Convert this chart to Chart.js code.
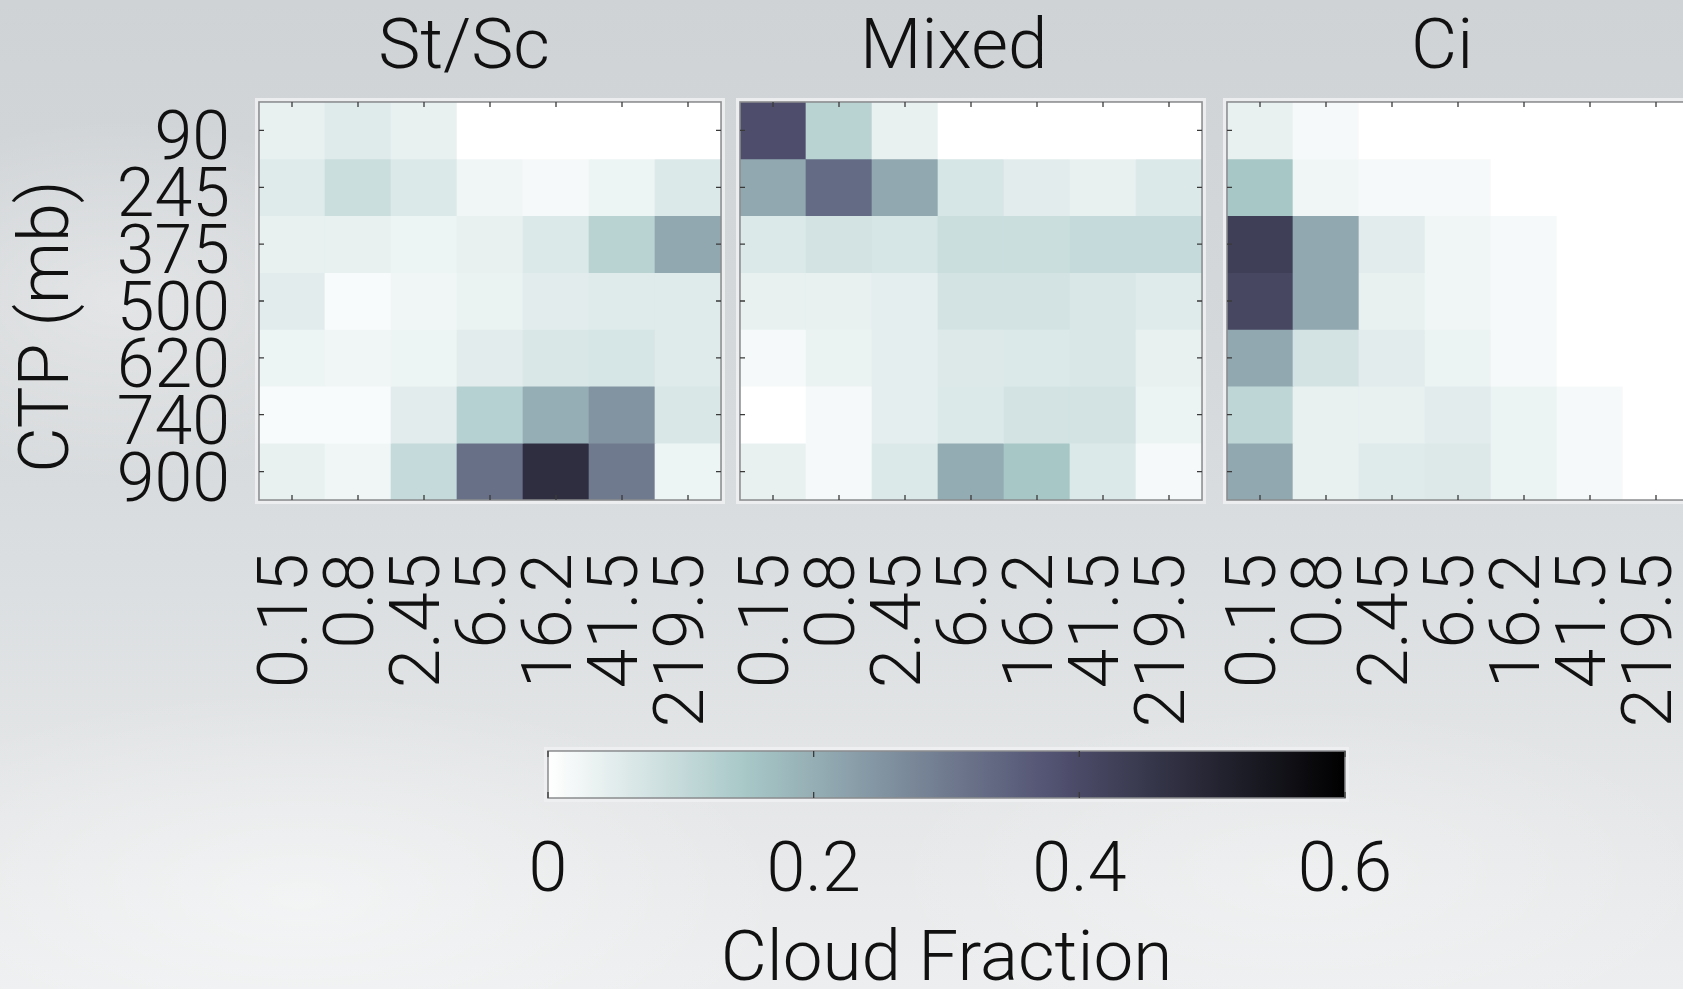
<!DOCTYPE html>
<html>
<head>
<meta charset="utf-8">
<script src="https://cdn.jsdelivr.net/npm/chart.js@4.4.1/dist/chart.umd.min.js"></script>
<style>
  html, body { margin: 0; padding: 0; }
  body {
    width: 1683px; height: 989px; overflow: hidden; position: relative;
    background:
      radial-gradient(ellipse 420px 260px at 120px 300px, rgba(255,255,255,0.35), rgba(255,255,255,0) 70%),
      radial-gradient(ellipse 700px 300px at 300px 900px, rgba(255,255,255,0.45), rgba(255,255,255,0) 70%),
      radial-gradient(ellipse 600px 250px at 1300px 880px, rgba(255,255,255,0.30), rgba(255,255,255,0) 70%),
      linear-gradient(to bottom, #cfd3d6 0%, #d5d8da 35%, #dcdfe1 60%, #e6e8e9 85%, #eceeef 100%);
  }
  canvas { position: absolute; }
</style>
</head>
<body>
<canvas id="p1" width="740" height="740" style="left:0px;top:0px"></canvas>
<canvas id="p2" width="500" height="740" style="left:722px;top:0px"></canvas>
<canvas id="p3" width="500" height="740" style="left:1209px;top:0px"></canvas>
<canvas id="cb" width="1000" height="269" style="left:450px;top:720px"></canvas>
<script>
// ---- data ----
const xLabels = ['0.15', '0.8', '2.45', '6.5', '16.2', '41.5', '219.5'];   // optical thickness bins
const yLabels = ['90', '245', '375', '500', '620', '740', '900'];          // CTP (mb), top to bottom
const panelTitles = ['St/Sc', 'Mixed', 'Ci'];

const stscValues = [
  [0.04, 0.055, 0.04, 0, 0, 0, 0],
  [0.055, 0.09, 0.06, 0.025, 0.015, 0.03, 0.06],
  [0.04, 0.04, 0.03, 0.04, 0.06, 0.12, 0.21],
  [0.05, 0.012, 0.025, 0.035, 0.05, 0.055, 0.055],
  [0.03, 0.025, 0.03, 0.05, 0.065, 0.07, 0.055],
  [0.012, 0.012, 0.05, 0.125, 0.2, 0.25, 0.065],
  [0.04, 0.025, 0.1, 0.32, 0.475, 0.3, 0.03]
];
const mixedValues = [
  [0.39, 0.12, 0.04, 0, 0, 0, 0],
  [0.21, 0.33, 0.21, 0.07, 0.05, 0.04, 0.06],
  [0.06, 0.075, 0.07, 0.09, 0.09, 0.1, 0.1],
  [0.04, 0.04, 0.045, 0.075, 0.075, 0.065, 0.055],
  [0.015, 0.035, 0.045, 0.058, 0.06, 0.065, 0.04],
  [0, 0.015, 0.045, 0.06, 0.075, 0.075, 0.033],
  [0.04, 0.015, 0.06, 0.205, 0.15, 0.06, 0.015]
];
const ciValues = [
  [0.04, 0.015, 0, 0, 0, 0, 0],
  [0.15, 0.025, 0.015, 0.015, 0, 0, 0],
  [0.43, 0.21, 0.05, 0.025, 0.015, 0, 0],
  [0.41, 0.21, 0.04, 0.025, 0.015, 0, 0],
  [0.21, 0.075, 0.05, 0.033, 0.015, 0, 0],
  [0.11, 0.04, 0.04, 0.05, 0.033, 0.015, 0],
  [0.21, 0.04, 0.055, 0.058, 0.033, 0.015, 0]
];
const cbTicks = [0, 0.2, 0.4, 0.6];
const cbMin = 0, cbMax = 0.6;

// ---- colormap (reversed "bone") ----
function clamp01(t) { return Math.max(0, Math.min(1, t)); }
function cmap(v) {
  const x = 1 - clamp01((v - cbMin) / (cbMax - cbMin));
  const hr = Math.min(1, x / 0.375);
  const hg = clamp01((x - 0.375) / 0.375);
  const hb = clamp01((x - 0.75) / 0.25);
  const r = (7 * x + hb) / 8, g = (7 * x + hg) / 8, b = (7 * x + hr) / 8;
  return 'rgb(' + Math.round(r * 255) + ',' + Math.round(g * 255) + ',' + Math.round(b * 255) + ')';
}

const FONT = 'Roboto, "Liberation Sans", sans-serif';
const TXT = '#111111';

// frame + inner ticks plugin
const framePlugin = {
  id: 'frame',
  afterDatasetsDraw(chart, args, opts) {
    const { ctx, chartArea: a } = chart;
    ctx.save();
    ctx.strokeStyle = 'rgba(238,240,241,0.9)';
    ctx.lineWidth = 3;
    ctx.strokeRect(a.left - 2.5, a.top - 2.5, a.right - a.left + 5, a.bottom - a.top + 5);
    ctx.strokeStyle = '#8a8c8e';
    ctx.lineWidth = 1.5;
    ctx.strokeRect(a.left, a.top, a.right - a.left, a.bottom - a.top);
    ctx.strokeStyle = '#3a3a3a';
    ctx.lineWidth = 1.3;
    const L = opts.len || 5;
    const xs = chart.scales.x;
    xs.ticks.forEach((t, i) => {
      const px = xs.getPixelForTick(i);
      ctx.beginPath();
      ctx.moveTo(px, a.top); ctx.lineTo(px, a.top + L);
      ctx.moveTo(px, a.bottom); ctx.lineTo(px, a.bottom - L);
      ctx.stroke();
    });
    if (opts.yTicks) {
      const ys = chart.scales.y;
      ys.ticks.forEach((t, i) => {
        const py = ys.getPixelForTick(i);
        ctx.beginPath();
        ctx.moveTo(a.left, py); ctx.lineTo(a.left + L, py);
        ctx.moveTo(a.right, py); ctx.lineTo(a.right - L, py);
        ctx.stroke();
      });
    }
    ctx.restore();
  }
};

function noPad(s) { s.paddingLeft = 0; s.paddingRight = 0; s.paddingTop = 0; s.paddingBottom = 0; }

// titleSpaces: trailing spaces nudge the centred title slightly left, as in the original figure
function makePanel(id, values, title, titleSpaces, showY, padding) {
  return new Chart(document.getElementById(id), {
    type: 'bar',
    data: {
      labels: xLabels,
      datasets: values.map((row, r) => ({
        label: yLabels[r],
        data: row.map(() => [r, r + 1]),
        backgroundColor: row.map(cmap),
        borderWidth: 0,
        barPercentage: 1,
        categoryPercentage: 1,
        grouped: false
      }))
    },
    options: {
      responsive: false,
      animation: false,
      devicePixelRatio: 1,
      layout: { padding: padding },
      plugins: {
        legend: { display: false },
        tooltip: { enabled: false },
        title: {
          display: true, text: title + titleSpaces, color: TXT, fullSize: false,
          font: { family: FONT, size: 71, weight: 300, lineHeight: 1 },
          padding: { top: 15, bottom: 16 }
        },
        frame: { yTicks: true, len: 5 }
      },
      scales: {
        x: {
          type: 'category',
          grid: { display: false, drawTicks: false },
          border: { display: false },
          ticks: {
            autoSkip: false, minRotation: 90, maxRotation: 90, padding: 53, labelOffset: -3,
            color: TXT, font: { family: FONT, size: 71, weight: 300, lineHeight: 1.2 }
          },
          afterFit: s => { s.height = 240; noPad(s); }
        },
        y: {
          type: 'linear', min: 0, max: yLabels.length, reverse: true,
          display: showY,
          grid: { display: false, drawTicks: false },
          border: { display: false },
          afterBuildTicks: s => { s.ticks = yLabels.map((_, i) => ({ value: i + 0.5 })); },
          ticks: {
            autoSkip: false,
            callback: v => yLabels[Math.floor(v)],
            padding: 29, labelOffset: 12,
            color: TXT, font: { family: FONT, size: 68, weight: 300, lineHeight: 1 }
          },
          title: {
            display: showY, text: 'CTP (mb)   ', color: TXT,
            font: { family: FONT, size: 70, weight: 300, lineHeight: 1 },
            padding: { top: 15, bottom: 0 }
          },
          afterFit: s => { s.width = showY ? 259 : 0; noPad(s); }
        }
      }
    },
    plugins: [framePlugin]
  });
}

makePanel('p1', stscValues, panelTitles[0], '   ', true, { left: 0, right: 19, top: 0, bottom: 0 });
makePanel('p2', mixedValues, panelTitles[1], '  ', false, { left: 18, right: 20, top: 0, bottom: 0 });
makePanel('p3', ciValues, panelTitles[2], ' \u2009', false, { left: 18, right: 20, top: 0, bottom: 0 });

// ---- colorbar ----
new Chart(document.getElementById('cb'), {
  type: 'bar',
  data: {
    labels: [''],
    datasets: [{
      data: [[cbMin, cbMax]],
      backgroundColor: (c) => {
        const chart = c.chart;
        if (!chart.chartArea) return '#888';
        const xs = chart.scales.x;
        const x0 = xs.getPixelForValue(cbMin), x1 = xs.getPixelForValue(cbMax);
        const g = chart.ctx.createLinearGradient(x0, 0, x1, 0);
        const stops = [0, 0.05, 0.1, 0.15, 0.2, 0.25, 0.3, 0.35, 0.375, 0.4, 0.45, 0.5, 0.55, 0.6];
        stops.forEach(v => g.addColorStop((v - cbMin) / (cbMax - cbMin), cmap(v)));
        return g;
      },
      borderWidth: 0,
      barPercentage: 1,
      categoryPercentage: 1
    }]
  },
  options: {
    indexAxis: 'y',
    responsive: false,
    animation: false,
    devicePixelRatio: 1,
    layout: { padding: { left: 98, right: 105, top: 31, bottom: 0 } },
    plugins: {
      legend: { display: false },
      tooltip: { enabled: false },
      frame: { yTicks: false, len: 6 }
    },
    scales: {
      y: { display: false },
      x: {
        type: 'linear', min: cbMin, max: cbMax,
        grid: { display: false, drawTicks: false },
        border: { display: false },
        afterBuildTicks: s => { s.ticks = cbTicks.map(v => ({ value: v })); },
        ticks: {
          callback: v => String(v),
          padding: 33, color: TXT,
          font: { family: FONT, size: 70, weight: 300, lineHeight: 1.2 }
        },
        title: {
          display: true, text: 'Cloud Fraction', color: TXT,
          font: { family: FONT, size: 71, weight: 300, lineHeight: 0.76 },
          padding: { top: 0, bottom: 0 }
        },
        afterFit: s => { s.height = 191; noPad(s); }
      }
    }
  },
  plugins: [framePlugin]
});
</script>
</body>
</html>
